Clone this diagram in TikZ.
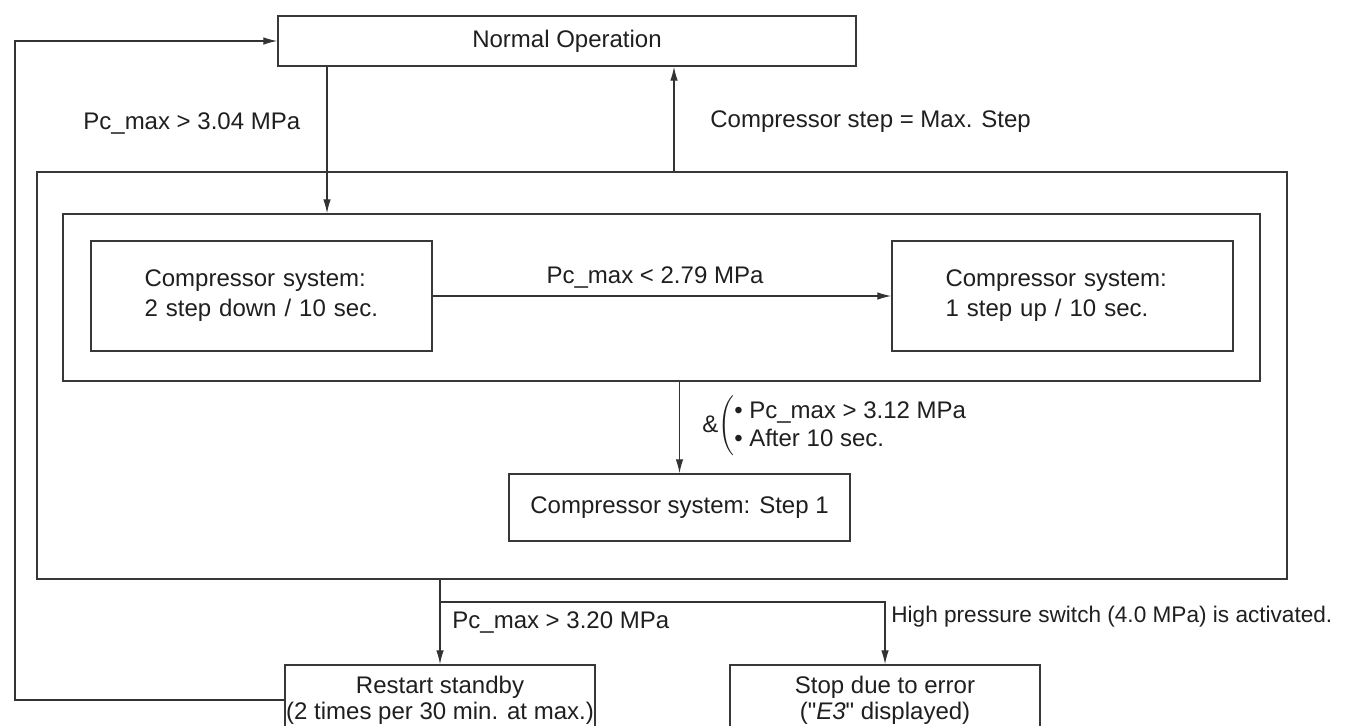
\documentclass[tikz,border=0pt]{standalone}
\usepackage{fontspec}
\setmainfont{Liberation Sans}
\usetikzlibrary{arrows.meta}
\begin{document}
\begin{tikzpicture}[x=0.5pt,y=-0.5pt,
  every node/.style={font=\fontsize{12}{15}\selectfont, text=black!88},
  box/.style={draw=black!78, line width=0.7pt, rectangle, inner sep=0pt},
  stepbox/.style={box, minimum width=170.5pt, minimum height=55pt, text width=117pt, align=left},
  endbox/.style={box, minimum width=155pt, minimum height=35pt, align=center, font=\fontsize{12}{12.8}\selectfont},
  link/.style={draw=black!80, line width=0.65pt},
  arr/.style={link, -{Latex[length=7pt,width=3.8pt]}},
  lbl/.style={anchor=west, inner sep=0pt},
]
\clip (0,0) rectangle (1348,725);
\fill[white] (0,0) rectangle (1348,725);

% states
\node[box, minimum width=289pt, minimum height=25pt] (norm) at (567,41) {Normal Operation};
\node[box, minimum width=625pt, minimum height=203.5pt] (outer) at (662,375.5) {};
\node[box, minimum width=598.5pt, minimum height=83.5pt] (inner) at (661.5,297.5) {};
\node[stepbox] (dn) at (261.5,296) {Compressor system:\\2 step down / 10 sec.};
\node[stepbox] (up) at (1062.5,296) {Compressor system:\\1 step up / 10 sec.};
\node[box, minimum width=170.5pt, minimum height=33.5pt] (s1) at (679.5,507.5) {Compressor system: Step 1};
\node[endbox] (rst) at (440,700) {Restart standby\\(2 times per 30 min. at max.)};
\node[endbox] (stp) at (885,700) {Stop due to error\\(\textquotedbl\textit{E3}\textquotedbl\ displayed)};

% routing points
\coordinate (fb) at (15,699);
\coordinate (xin) at (327,0);
\coordinate (xout) at (674,0);
\coordinate (br) at (440,602);

% connectors
\draw[arr] (norm.south -| xin) -- (inner.north -| xin);
\draw[arr] (outer.north -| xout) -- (norm.south -| xout);
\draw[arr] (dn.east) -- (up.west);
\draw[arr] (inner.south -| s1.north) -- (s1.north);
\draw[arr] (outer.south -| rst.north) -- (rst.north);
\draw[arr] (br) -| (stp.north);
\draw[arr] (rst.west) -- (rst.west -| fb) |- (norm.west);

% conditions
\node[lbl] (c1) at (83,123) {Pc\_max > 3.04 MPa};
\node[lbl] (c2) at (710,122) {Compressor step = Max. Step};
\node (c3) at (655,277) {Pc\_max < 2.79 MPa};
\node[lbl] (c4) at (702,426) {\&$\left(\begin{tabular}{@{}l@{}}\textbullet\ Pc\_max > 3.12 MPa\\[-1pt]\textbullet\ After 10 sec.\end{tabular}\right.$};
\node[lbl] (c5) at (452,622) {Pc\_max > 3.20 MPa};
\node[lbl, font=\fontsize{11.3}{14}\selectfont] (c6) at (891,617) {High pressure switch (4.0 MPa) is activated.};
\end{tikzpicture}
\end{document}
